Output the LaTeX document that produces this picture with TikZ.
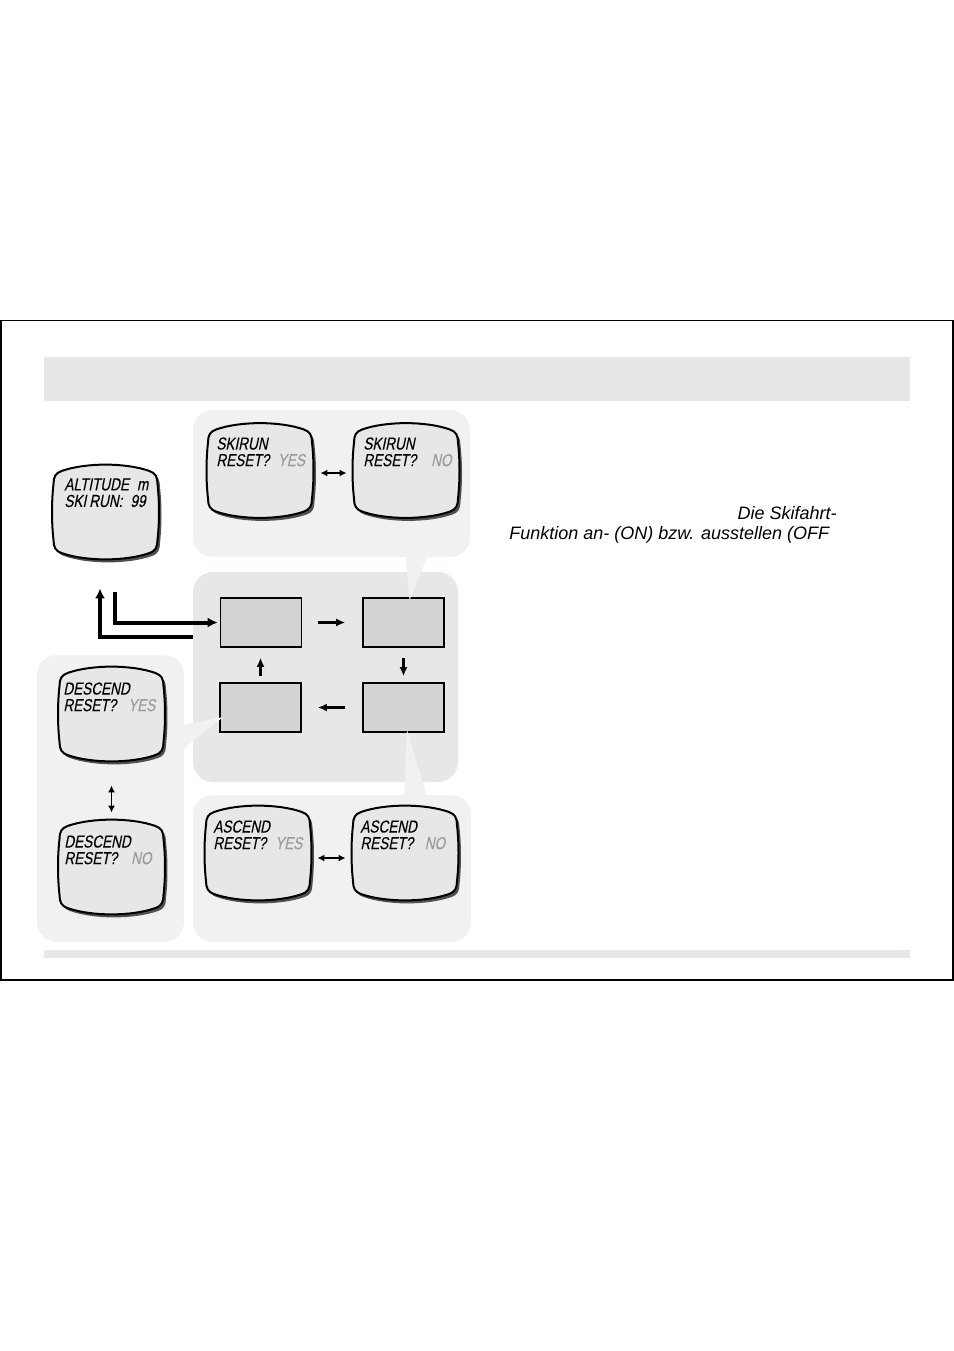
\documentclass[tikz,border=0pt]{standalone}
\usepackage{fontspec}
\newfontfamily\lcdfont{Liberation Sans}[FakeStretch=0.78,FakeSlant=0.2,FakeBold=0.12]
\newfontfamily\manualfont{Liberation Sans}
\definecolor{skipanel}{RGB}{241,241,242}
\definecolor{skimid}{RGB}{230,231,232}
\definecolor{skibox}{RGB}{209,211,212}
\definecolor{skigrey}{RGB}{155,155,155}
\definecolor{skishadow}{RGB}{80,80,80}
\usetikzlibrary{arrows.meta,positioning,calc}
\newcommand{\lcdoutline}{(-44,-41) .. controls (-20,-49.5) and (20,-49.5) .. (44,-41)
  .. controls (50,-39) and (52,-35) .. (52,-28) .. controls (54,-10) and (54,10) .. (52,28)
  .. controls (52,35) and (50,39) .. (44,41) .. controls (20,49.5) and (-20,49.5) .. (-44,41)
  .. controls (-50,39) and (-52,35) .. (-52,28) .. controls (-54,10) and (-54,-10) .. (-52,-28)
  .. controls (-52,-35) and (-50,-39) .. (-44,-41) -- cycle}
\newcommand{\lcdscreen}[1]{%
  \fill[skishadow,shift={($(#1.center)+(2.5,3)$)}] \lcdoutline;
  \filldraw[fill=skimid,draw=black,line width=1pt,shift={(#1.center)}] \lcdoutline;}
\begin{document}
\begin{tikzpicture}[x=0.5pt,y=-0.5pt,
  panel/.style={fill=skipanel,rounded corners=10pt},
  modebox/.style={draw,fill=skibox,line width=0.8pt,minimum width=40.5pt,minimum height=24.5pt,inner sep=0pt},
  lcd/.style={minimum width=53pt,minimum height=47.5pt,inner sep=0pt},
  lcdtext/.style={font={\lcdfont\fontsize{8.7}{8.3}\selectfont},anchor=north west,align=left,inner sep=0pt},
  manualtext/.style={font={\manualfont\itshape\fontsize{9}{10}\selectfont},inner sep=0pt},
  looparrow/.style={line width=1.1pt,-{Latex[length=4.5pt,width=4pt]}},
  swaparrow/.style={line width=0.8pt,{Latex[length=3.5pt,width=3.5pt]}-{Latex[length=3.5pt,width=3.5pt]}},
  bigarrow/.style={line width=2pt,-{Latex[length=5pt,width=5pt]}}
]
  \useasboundingbox (0,0) rectangle (954,1351);
  \draw[line width=0.75pt] (0.8,320.5) rectangle (953.2,979.8);
  \fill[skimid] (44,357) rectangle (910,401);
  \fill[skimid] (44,950) rectangle (910,958);

  \fill[panel] (193,410) rectangle (470,557);
  \fill[panel,fill=skimid] (193,572) rectangle (458,782);
  \fill[panel] (37,655) rectangle (184,942);
  \fill[panel] (193,795) rectangle (471,942);

  \node[modebox] (m1) at (261,622.5) {};
  \node[modebox] (m2) at (403.5,622.5) {};
  \node[modebox] (m3) at (260.5,707.5) {};
  \node[modebox] (m4) at (403.5,707.5) {};

  \fill[skipanel] (405,550) -- (430,550) -- ([xshift=3pt,yshift=-1.5pt]m2.north) -- cycle;
  \fill[skipanel] (178,726) -- ([xshift=2pt,yshift=-4.75pt]m3.west) -- (178,753) -- cycle;
  \fill[skipanel] (404,800) -- ([xshift=1.75pt,yshift=1.5pt]m4.south) -- (428,800) -- cycle;

  \node[lcd] (alt) at (105.5,512) {};
  \node[lcd] (skyes) at (260,470.5) {};
  \node[lcd] (skno) at (406,470.5) {};
  \node[lcd] (dsyes) at (111.5,714) {};
  \node[lcd] (dsno) at (111.5,867) {};
  \node[lcd] (asyes) at (258,853) {};
  \node[lcd] (asno) at (405,853) {};
  \foreach \screen in {alt,skyes,skno,dsyes,dsno,asyes,asno}{\lcdscreen{\screen}}

  \node[lcdtext] (alttxt) at (64,478) {ALTITUDE\hspace{4pt}m\\SKI\hspace{1.5pt}RUN:\hspace{4pt}99};
  \node[lcdtext] (skyestxt) at (216,437) {SKIRUN\\RESET?\hspace{4.3pt}{\color{skigrey}YES}};
  \node[lcdtext] (sknotxt) at (363,437) {SKIRUN\\RESET?\hspace{7.5pt}{\color{skigrey}NO}};
  \node[lcdtext] (dsyestxt) at (63,682) {DESCEND\\RESET?\hspace{6pt}{\color{skigrey}YES}};
  \node[lcdtext] (dsnotxt) at (64,835) {DESCEND\\RESET?\hspace{7pt}{\color{skigrey}NO}};
  \node[lcdtext] (asyestxt) at (213,820) {ASCEND\\RESET?\hspace{4.5pt}{\color{skigrey}YES}};
  \node[lcdtext] (asnotxt) at (360,820) {ASCEND\\RESET?\hspace{5.8pt}{\color{skigrey}NO}};

  \draw[looparrow,shorten <=7.75pt,shorten >=8.5pt] (m1) -- (m2);
  \draw[looparrow,shorten <=5pt,shorten >=3pt] (m2.south) -- (m4.north);
  \draw[looparrow,shorten <=8.5pt,shorten >=8pt] (m4) -- (m3);
  \draw[looparrow,shorten <=3pt,shorten >=5pt] (m3.north) -- (m3.north |- m1.south);

  \draw[swaparrow,shorten <=3.5pt,shorten >=3pt] ([yshift=-1.25pt]skyes.east) -- ([yshift=-1.25pt]skno.west);
  \draw[swaparrow,shorten <=11.75pt,shorten >=3.25pt] (dsyes.south) -- (dsno.north);
  \draw[swaparrow,shorten <=3pt,shorten >=3pt] ([yshift=-2.5pt]asyes.east) -- ([yshift=-2.5pt]asno.west);

  \draw[bigarrow,shorten <=16.25pt,shorten >=1pt] ([xshift=4.5pt]alt.south) |- (m1.west);
  \draw[bigarrow,shorten <=13.5pt,shorten >=14.25pt] ([yshift=-7pt]m1.west) -| ([xshift=-2.75pt]alt.south);

  \node[manualtext,anchor=base east] (intro) at (837,519) {Die Skifahrt-};
  \node[manualtext,anchor=base west] (introcont) at (509,539) {Funktion an- (ON) bzw. ausstellen (OFF};
\end{tikzpicture}
\end{document}
